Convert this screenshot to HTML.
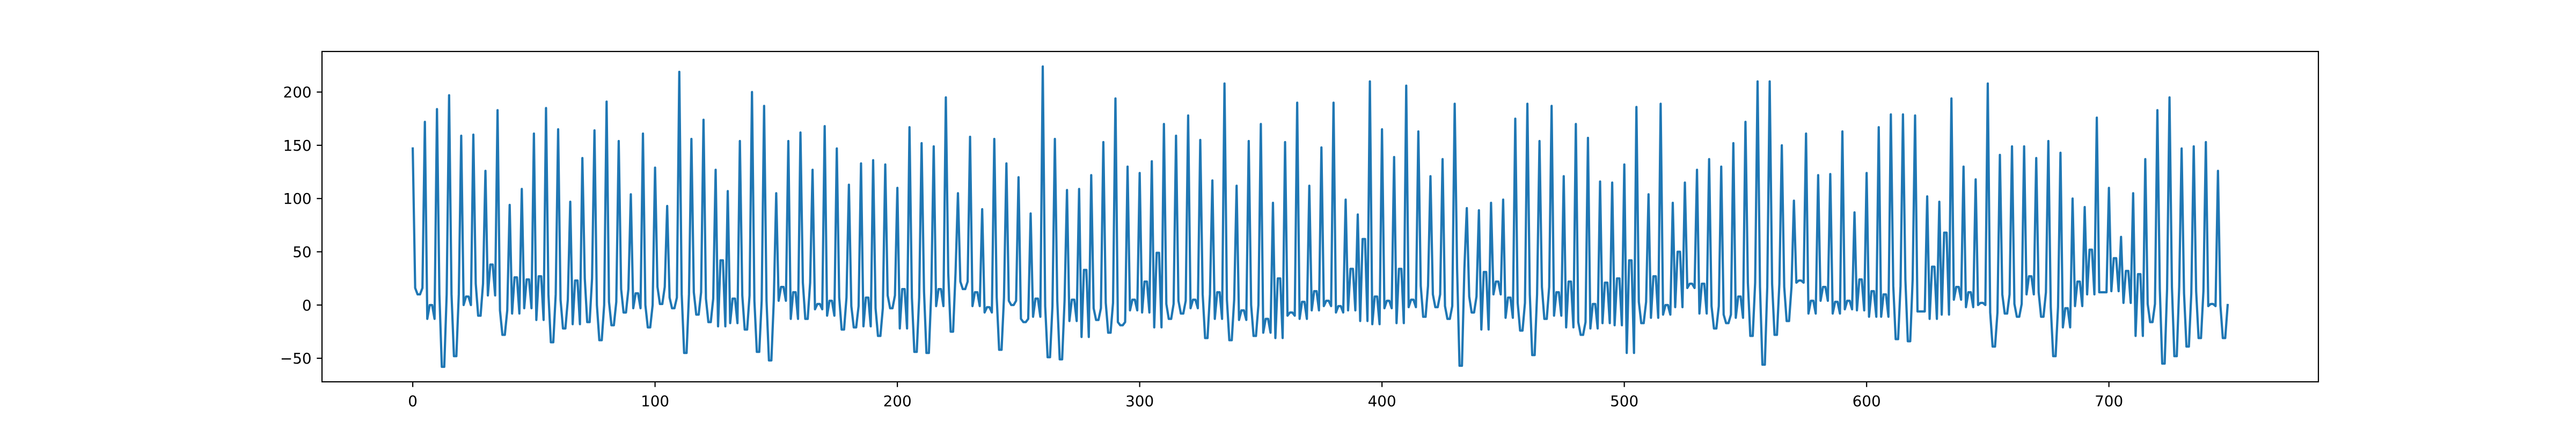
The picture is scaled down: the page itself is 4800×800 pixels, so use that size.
<!DOCTYPE html>
<html><head><meta charset="utf-8"><style>
html,body{margin:0;padding:0;background:#fff;}
svg{display:block;}
text{font-family:"DejaVu Sans","Liberation Sans",sans-serif;font-size:27.8px;fill:#000;}
</style></head><body>
<svg id="chart" width="4800" height="800" viewBox="0 0 4800 800" xmlns="http://www.w3.org/2000/svg">
<rect x="0" y="0" width="4800" height="800" fill="#fff"/>
<g id="plot"></g>
</svg>
<script>
const xTicks = [0,100,200,300,400,500,600,700];
const yTicks = [-50,0,50,100,150,200];
const values = [
147,16,10,10,16, 172,-13,0,0,-13, 184,10,-58,-58,10, 197,10,-48,-48,10, 159,0,8,8,0,
160,20,-10,-10,20, 126,9,38,38,9, 183,-5,-28,-28,-5, 94,-8,26,26,-8, 109,-3,24,24,-3,
161,-14,27,27,-14, 185,10,-35,-35,10, 165,5,-22,-22,5, 97,-18,23,23,-18, 138,25,-16,-16,25,
164,0,-33,-33,0, 191,3,-19,-19,3, 154,15,-7,-7,15, 104,-3,11,11,-3, 161,0,-21,-21,0,
129,17,1,1,17, 93,7,-3,-3,7, 219,10,-45,-45,10, 156,12,-9,-9,12, 174,6,-16,-16,6,
127,-20,42,42,-20, 107,-17,6,6,-17, 154,9,-23,-23,9, 200,4,-44,-44,4, 187,4,-52,-52,4,
105,4,17,17,4, 154,-13,12,12,-13, 162,21,-13,-13,21, 127,-4,1,1,-4, 168,-10,4,4,-10,
147,7,-23,-23,7, 113,-1,-21,-21,-1, 133,-20,7,7,-20, 136,-3,-29,-29,-3, 132,9,-3,-3,9,
110,-22,15,15,-22, 167,7,-44,-44,7, 152,13,-45,-45,13, 149,-1,15,15,-1, 195,30,-25,-25,30,
105,22,15,15,22, 158,-1,12,12,-1, 90,-7,-2,-2,-7, 156,7,-42,-42,7, 133,4,0,0,4,
120,-13,-16,-16,-13, 86,-11,6,6,-11, 224,-1,-49,-49,-1, 156,4,-51,-51,4, 108,-15,5,5,-15,
109,-30,33,33,-30, 122,-3,-14,-14,-3, 153,2,-26,-26,2, 194,-16,-19,-19,-16, 130,-5,5,5,-5,
124,-7,22,22,-7, 135,-21,49,49,-21, 170,1,-13,-13,1, 159,4,-8,-8,4, 178,-3,5,5,-3,
155,10,-31,-31,10, 117,-13,12,12,-13, 208,5,-33,-33,5, 112,-14,-5,-5,-14, 154,0,-29,-29,0,
170,-26,-13,-13,-26, 96,-31,25,25,-31, 153,-10,-7,-7,-10, 190,-13,3,3,-13, 112,-5,13,13,-5,
148,-1,4,4,-1, 190,-7,-1,-1,-7, 99,-5,34,34,-5, 85,-15,62,62,-15, 210,-18,8,8,-18,
165,-3,4,4,-3, 139,-17,34,34,-17, 206,-2,5,5,-2, 163,18,-11,-11,18, 121,10,-2,-2,10,
137,-1,-13,-13,-1, 189,34,-57,-57,34, 91,8,-7,-7,8, 89,-23,31,31,-23, 96,10,22,22,10,
99,-12,7,7,-12, 175,2,-24,-24,2, 189,10,-47,-47,10, 154,17,-13,-13,17, 187,-10,12,12,-10,
121,-21,22,22,-21, 170,-16,-28,-28,-16, 157,-22,1,1,-22, 116,-17,21,21,-17, 115,-19,25,25,-19,
132,-45,42,42,-45, 186,3,-17,-17,3, 104,-12,27,27,-12, 189,-9,0,0,-9, 96,-2,50,50,-2,
115,16,20,20,16, 127,-8,20,20,-8, 137,-1,-22,-22,-1, 130,-9,-17,-17,-9, 152,-12,8,8,-12,
172,21,-29,-29,21, 210,17,-56,-56,17, 210,20,-28,-28,20, 150,17,-15,-15,17, 98,21,23,23,21,
161,-8,4,4,-8, 122,4,17,17,4, 123,-8,3,3,-8, 163,-4,4,4,-4, 87,-5,24,24,-5,
124,-11,13,13,-11, 167,-11,10,10,-11, 179,18,-32,-32,18, 179,24,-34,-34,24, 178,-6,-6,-6,-6,
102,-13,36,36,-13, 97,-9,68,68,-9, 194,5,17,17,5, 130,-2,12,12,-2, 118,0,2,2,0,
208,-7,-39,-39,-7, 141,10,-8,-8,10, 149,1,-11,-11,1, 149,10,27,27,10, 138,12,-11,-11,12,
154,-2,-48,-48,-2, 143,-21,-3,-3,-21, 100,-1,22,22,-1, 92,10,52,52,10, 176,12,12,12,12,
110,13,44,44,13, 64,2,32,32,2, 105,-29,29,29,-29, 137,1,-16,-16,1, 183,15,-55,-55,15,
195,17,-48,-48,17, 147,11,-39,-39,11, 149,13,-31,-31,13, 153,-1,1,1,-1, 126,0,-31,-31,0
];

const AX = {left:600, right:4320, top:96, bottom:712};
const xMin = -37.45, xMax = 786.45, yMin = -72.1, yMax = 238.1;
function sx(v){ return AX.left + (v - xMin) / (xMax - xMin) * (AX.right - AX.left); }
function sy(v){ return AX.bottom - (v - yMin) / (yMax - yMin) * (AX.bottom - AX.top); }

const NS = "http://www.w3.org/2000/svg";
const plot = document.getElementById('plot');
function mk(tag, attrs){ const e = document.createElementNS(NS, tag); for (const k in attrs) e.setAttribute(k, attrs[k]); return e; }

// series line
let d = '';
values.forEach((v,i)=>{ d += (i ? 'L' : 'M') + sx(i).toFixed(2) + ' ' + sy(v).toFixed(2); });
const line = mk('path', {d:d, fill:'none', stroke:'#1f77b4', 'stroke-width':4.2, 'stroke-linejoin':'round', 'stroke-linecap':'square'});


plot.appendChild(line);

// x ticks
xTicks.forEach(t=>{
  const x = sx(t);
  const tk = mk('line', {x1:x, x2:x, y1:AX.bottom, y2:AX.bottom+9.7, stroke:'#000', 'stroke-width':2.2});
  
  
  plot.appendChild(tk);
  const tx = mk('text', {x:x, y:AX.bottom+19.4+26, 'text-anchor':'middle'});
  tx.textContent = t;
  
  
  plot.appendChild(tx);
});
// y ticks
yTicks.forEach(t=>{
  const y = sy(t);
  const tk = mk('line', {x1:AX.left-9.7, x2:AX.left, y1:y, y2:y, stroke:'#000', 'stroke-width':2.2});
  
  
  plot.appendChild(tk);
  const tx = mk('text', {x:AX.left-19.4, y:y+10, 'text-anchor':'end'});
  tx.textContent = t < 0 ? '\u2212' + Math.abs(t) : t;
  
  
  plot.appendChild(tx);
});
// frame
const frame = mk('rect', {x:AX.left, y:AX.top, width:AX.right-AX.left, height:AX.bottom-AX.top, fill:'none', stroke:'#000', 'stroke-width':2.2});


plot.appendChild(frame);
</script>
</body></html>
